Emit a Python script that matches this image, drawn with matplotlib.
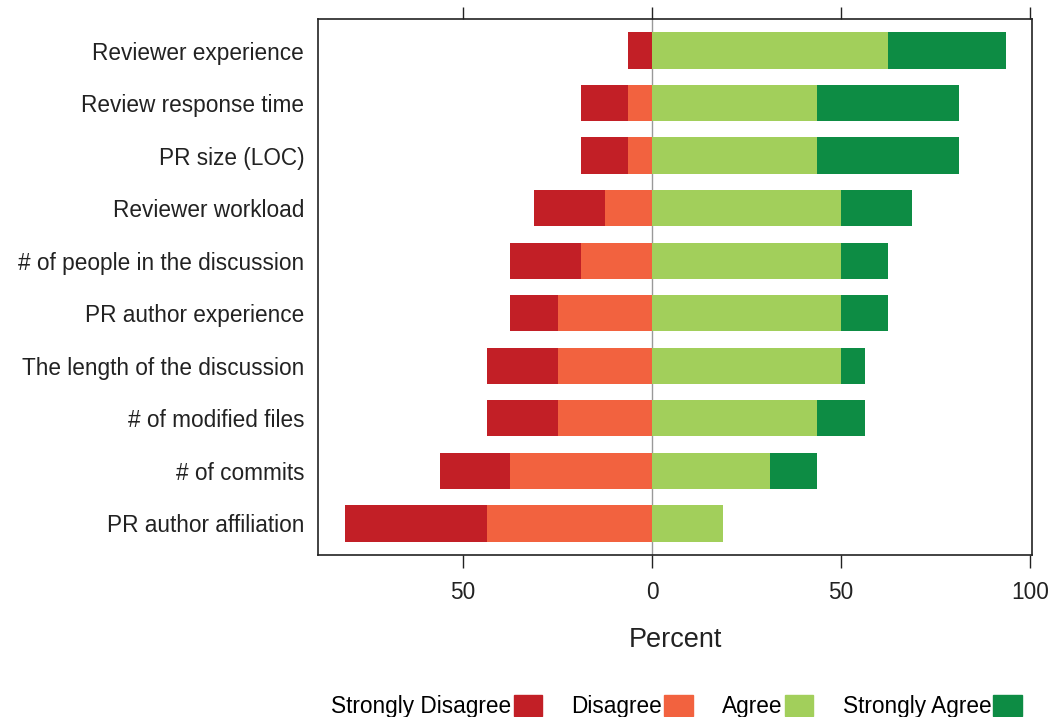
import matplotlib.pyplot as plt
import matplotlib.patches as mpatches
import numpy as np

plt.rcParams['font.family'] = ['Liberation Sans', 'DejaVu Sans']

# Факторы (сверху вниз) и доли ответов в процентах
factors = [
    "Reviewer experience",
    "Review response time",
    "PR size (LOC)",
    "Reviewer workload",
    "# of people in the discussion",
    "PR author experience",
    "The length of the discussion",
    "# of modified files",
    "# of commits",
    "PR author affiliation",
]
strongly_disagree = [6.25, 12.5, 12.5, 18.75, 18.75, 12.5, 18.75, 18.75, 18.75, 37.5]
disagree = [0, 6.25, 6.25, 12.5, 18.75, 25, 25, 25, 37.5, 43.75]
agree = [62.5, 43.75, 43.75, 50, 50, 50, 50, 43.75, 31.25, 18.75]
strongly_agree = [31.25, 37.5, 37.5, 18.75, 12.5, 12.5, 6.25, 12.5, 12.5, 0]

levels = ["Strongly Disagree", "Disagree", "Agree", "Strongly Agree"]
colors = ["#C21F26", "#F2623F", "#A2CF5B", "#0D8C44"]

fig = plt.figure(figsize=(10.52, 7.17), dpi=100)
ax = fig.add_axes([0.3023, 0.226, 0.679, 0.7475])

y = np.arange(len(factors))
h = 0.69
sd = np.array(strongly_disagree)
d = np.array(disagree)
a = np.array(agree)
sa = np.array(strongly_agree)

# Отрицательные ответы влево от нуля, положительные вправо
ax.barh(y, -d, height=h, color=colors[1], linewidth=0)
ax.barh(y, -sd, left=-d, height=h, color=colors[0], linewidth=0)
ax.barh(y, a, height=h, color=colors[2], linewidth=0)
ax.barh(y, sa, left=a, height=h, color=colors[3], linewidth=0)

ax.axvline(0, color="#999999", linewidth=1, zorder=0.5)

ax.set_xlim(-88.4, 100.6)
ax.set_ylim(len(factors) - 0.4, -0.6)
ax.set_yticks(y)
ax.set_yticklabels(factors, fontsize=16.3, color="#222222")
ax.tick_params(axis="y", length=0, pad=10)

ax.set_xticks([-50, 0, 50, 100])
ax.set_xticklabels(["50", "0", "50", "100"])
ax.tick_params(axis="x", direction="out", length=9, width=1, labelsize=16.3,
               top=True, pad=10, colors="#222222")
for s in ax.spines.values():
    s.set_linewidth(1.2)
    s.set_color("#222222")

ax.set_xlabel("Percent", fontsize=19.5, labelpad=16, color="#222222")

handles = [mpatches.Patch(color=c, label=l) for c, l in zip(colors, levels)]
fig.legend(handles=handles, loc="lower center", bbox_to_anchor=(0.643, -0.030),
           ncol=4, frameon=False, markerfirst=False, fontsize=16.3,
           handlelength=1.25, handleheight=1.0, handletextpad=0.1,
           columnspacing=1.3)

fig.savefig("out.png", dpi=100)
